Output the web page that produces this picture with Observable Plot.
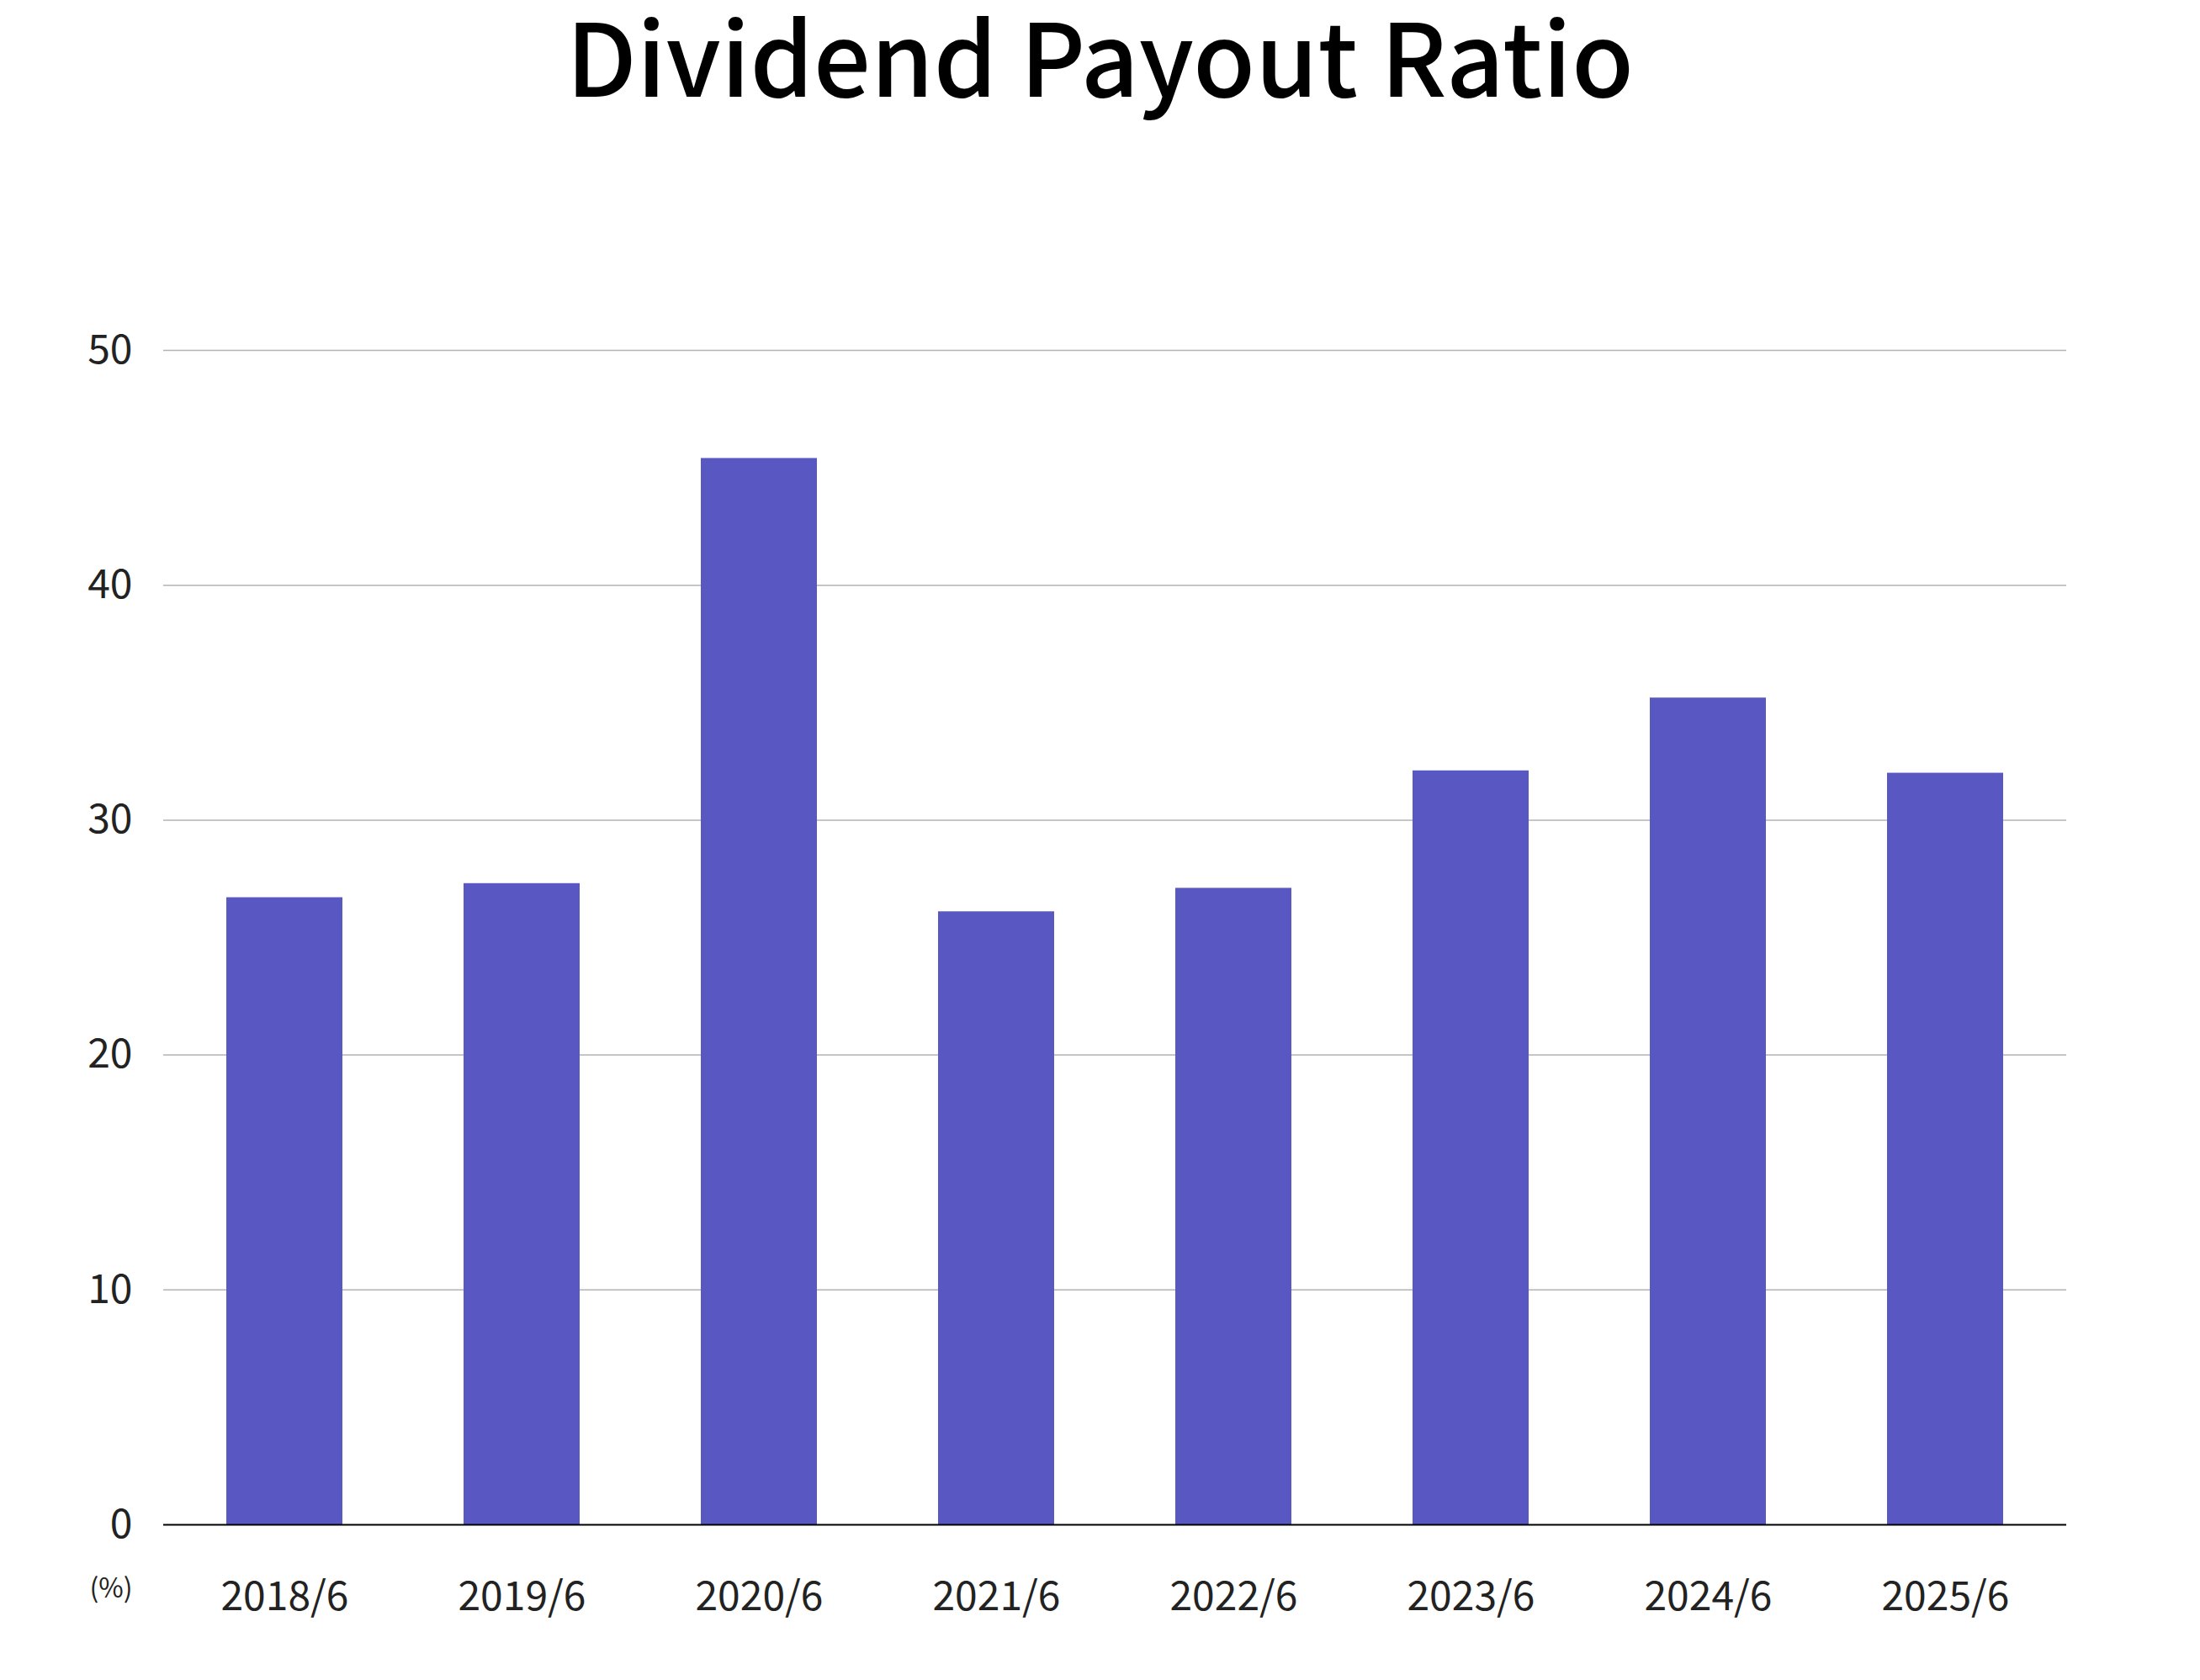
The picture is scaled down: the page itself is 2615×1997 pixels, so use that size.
<!DOCTYPE html>
<html>
<head>
<meta charset="utf-8">
<script src="https://cdn.jsdelivr.net/npm/d3@7"></script>
<script src="https://cdn.jsdelivr.net/npm/@observablehq/plot@0.6"></script>
<style>
  html, body { margin: 0; padding: 0; background: #fff; overflow: hidden; }
  #title {
    width: 2615px; height: 200px; box-sizing: border-box;
    padding-top: 3px;
    font-family: "Noto Sans CJK JP", "Noto Sans", sans-serif;
    font-size: 120px; line-height: 120px; font-weight: 500;
    text-align: center; color: #000;
  }
  #chart svg { display: block; }
</style>
</head>
<body>
<div id="title">Dividend Payout Ratio</div>
<div id="chart"></div>
<script>
const periods = ["2018/6", "2019/6", "2020/6", "2021/6", "2022/6", "2023/6", "2024/6", "2025/6"];
const payoutRatio = [26.7, 27.3, 45.4, 26.1, 27.1, 32.1, 35.2, 32.0];
const yTicks = [0, 10, 20, 30, 40, 50];
const unitLabel = "(%)";

const data = periods.map((p, i) => ({period: p, value: payoutRatio[i]}));

const chart = Plot.plot({
  width: 2615,
  height: 1797,
  marginTop: 216,
  marginBottom: 185,
  marginLeft: 194,
  marginRight: 159,
  style: {fontFamily: "'Noto Sans CJK JP', 'Noto Sans', sans-serif", fontSize: "48px", color: "#222", background: "#fff"},
  x: {domain: periods, paddingInner: 0.51, paddingOuter: 0.255, label: null, tickSize: 0, tickPadding: 67},
  y: {domain: [0, 50], ticks: yTicks, label: null, tickSize: 0, tickPadding: 37},
  marks: [
    Plot.ruleY(yTicks.filter(d => d > 0), {stroke: "#b3b3b3", strokeWidth: 1.5}),
    Plot.barY(data, {x: "period", y: "value", fill: "#5957c2"}),
    Plot.ruleY([0], {stroke: "#000", strokeWidth: 2}),
    Plot.text([unitLabel], {frameAnchor: "bottom-left", text: d => d, dx: -37, dy: 86, textAnchor: "end", fontSize: 32, fill: "#222"})
  ]
});
document.getElementById("chart").appendChild(chart);
</script>
</body>
</html>
